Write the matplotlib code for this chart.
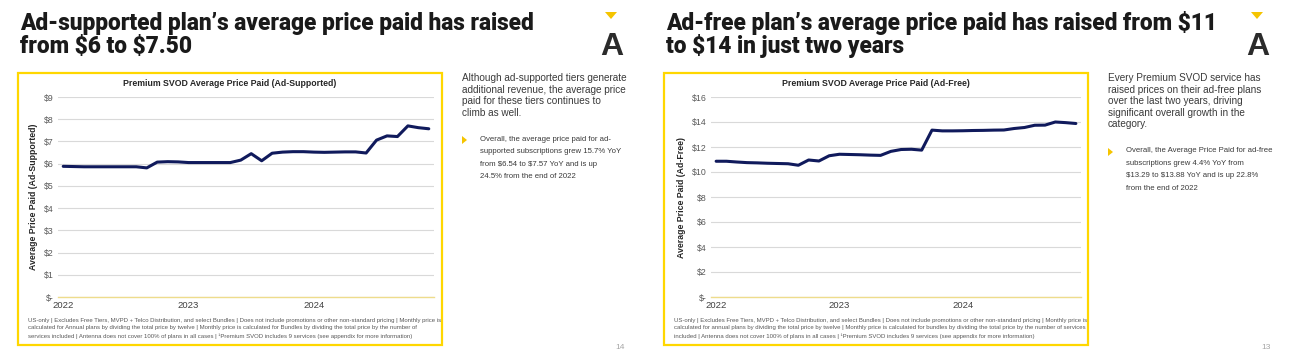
# Premium SVOD average price paid - two slides side by side

import matplotlib.pyplot as plt
from matplotlib.patches import Rectangle, Polygon


# data (monthly, Jan 2022 - Dec 2024)

months = [f"{y}-{m:02d}" for y in (2022, 2023, 2024) for m in range(1, 13)]
year_labels = ["2022", "2023", "2024"]

ad_supported = [5.88, 5.87, 5.86, 5.86, 5.86, 5.86, 5.86, 5.86, 5.81, 6.07, 6.09, 6.08,
                6.05, 6.05, 6.05, 6.05, 6.05, 6.16, 6.45, 6.13, 6.47, 6.52, 6.54, 6.54,
                6.52, 6.51, 6.52, 6.53, 6.53, 6.48, 7.06, 7.25, 7.22, 7.70, 7.62, 7.57]

ad_free = [10.86, 10.86, 10.80, 10.75, 10.73, 10.70, 10.68, 10.66, 10.54, 10.96, 10.88, 11.30,
           11.42, 11.40, 11.38, 11.35, 11.33, 11.65, 11.80, 11.82, 11.75, 13.35, 13.29, 13.29,
           13.30, 13.32, 13.33, 13.35, 13.36, 13.48, 13.56, 13.74, 13.75, 14.00, 13.95, 13.88]


W, H = 1292, 363

NAVY = "#101a5c"
YELLOW = "#ffd700"
DARK = "#262626"
GREY = "#595959"

TITLE_FONT = ["Roboto", "DejaVu Sans"]
BODY_FONT = ["Liberation Sans", "DejaVu Sans"]


fig = plt.figure(figsize=(W / 100, H / 100), dpi=100)
fig.patch.set_facecolor("white")


def fx(x):
    return x / W


def fy(y):
    return 1 - y / H


def text(x, y, s, **kw):
    kw.setdefault("family", BODY_FONT)
    return fig.text(fx(x), fy(y), s, parse_math=False, **kw)


def slide(off, title, chart_title, ylabel, values, ymax, ystep,
          body, bullet, bullet_y, footnote, page, plot_left, plot_right):

    # headline
    text(off + 20, 30, title[0], fontsize=16.3, fontweight=900,
         family=TITLE_FONT, color="#1a1a1a")
    text(off + 20, 53, title[1], fontsize=16.3, fontweight=900,
         family=TITLE_FONT, color="#1a1a1a")

    # logo
    fig.add_artist(Polygon([(fx(off + 605), fy(12)), (fx(off + 617), fy(12)),
                            (fx(off + 611), fy(19))], closed=True,
                           facecolor="#f5c400", edgecolor="none",
                           transform=fig.transFigure))
    text(off + 612, 55, "A", fontsize=23, fontweight="bold",
         color="#2b2b2b", ha="center")

    # yellow frame
    fig.add_artist(Rectangle((fx(off + 18), fy(345)), 424 / W, (345 - 73) / H,
                             fill=False, edgecolor=YELLOW, lw=1.6,
                             transform=fig.transFigure))

    # chart
    ax = fig.add_axes([fx(plot_left), fy(297), (plot_right - plot_left) / W, 200 / H])

    x = list(range(len(months)))
    ax.plot(x, values, color=NAVY, lw=2.2, solid_joinstyle="round",
            solid_capstyle="round")

    ax.set_xlim(-0.5, len(months) - 0.5)
    ax.set_ylim(0, ymax)

    yt = list(range(0, ymax + 1, ystep))
    ax.set_yticks(yt)
    ax.set_yticklabels(["$-" if v == 0 else f"${v}" for v in yt],
                       fontsize=6.3, color=GREY, family=BODY_FONT)
    ax.set_xticks([0, 12, 24])
    ax.set_xticklabels(year_labels, fontsize=6.8, color="#404040", family=BODY_FONT)
    ax.tick_params(length=0, pad=3)

    ax.grid(axis="y", color="#d9d9d9", lw=0.8)
    ax.set_axisbelow(True)
    for s in ["top", "right", "left"]:
        ax.spines[s].set_visible(False)
    ax.spines["bottom"].set_color("#eedc8c")
    ax.spines["bottom"].set_linewidth(1.0)

    ax.set_ylabel(ylabel, fontsize=6.3, fontweight="bold", color=DARK,
                  family=BODY_FONT, labelpad=4)

    text(off + 230, 84, chart_title, fontsize=6.3, fontweight="bold",
         color=DARK, ha="center", va="center")

    # footnote
    text(off + 28, 318, footnote, fontsize=4.3, color=GREY,
         va="top", linespacing=1.6)

    # side text
    tx = off + 462
    text(tx, 73, body, fontsize=7.2, color="#3a3a3a", va="top", linespacing=1.2)
    fig.add_artist(Polygon([(fx(tx), fy(bullet_y - 4)), (fx(tx + 5), fy(bullet_y)),
                            (fx(tx), fy(bullet_y + 4))], closed=True,
                           facecolor="#f5c400", edgecolor="none",
                           transform=fig.transFigure))
    text(tx + 18, bullet_y - 4.5, bullet, fontsize=5.6, color="#3a3a3a",
         va="top", linespacing=2.1)

    text(off + 620, 349, page, fontsize=6, color="#a6a6a6", ha="center")


slide(0,
      ["Ad-supported plan\u2019s average price paid has raised",
       "from $6 to $7.50"],
      "Premium SVOD Average Price Paid (Ad-Supported)",
      "Average Price Paid (Ad-Supported)",
      ad_supported, 9, 1,
      "Although ad-supported tiers generate\nadditional revenue, the average price\n"
      "paid for these tiers continues to\nclimb as well.",
      "Overall, the average price paid for ad-\nsupported subscriptions grew 15.7% YoY\n"
      "from $6.54 to $7.57 YoY and is up\n24.5% from the end of 2022",
      140,
      "US-only | Excludes Free Tiers, MVPD + Telco Distribution, and select Bundles | "
      "Does not include promotions or other non-standard pricing | Monthly price is\n"
      "calculated for Annual plans by dividing the total price by twelve | Monthly price "
      "is calculated for Bundles by dividing the total price by the number of\n"
      "services included | Antenna does not cover 100% of plans in all cases | "
      "\u00b9Premium SVOD includes 9 services (see appendix for more information)",
      "14", 58, 434)

slide(646,
      ["Ad-free plan\u2019s average price paid has raised from $11",
       "to $14 in just two years"],
      "Premium SVOD Average Price Paid (Ad-Free)",
      "Average Price Paid (Ad-Free)",
      ad_free, 16, 2,
      "Every Premium SVOD service has\nraised prices on their ad-free plans\n"
      "over the last two years, driving\nsignificant overall growth in the\ncategory.",
      "Overall, the Average Price Paid for ad-free\nsubscriptions grew 4.4% YoY from\n"
      "$13.29 to $13.88 YoY and is up 22.8%\nfrom the end of 2022",
      152,
      "US-only | Excludes Free Tiers, MVPD + Telco Distribution, and select Bundles | "
      "Does not include promotions or other non-standard pricing | Monthly price is\n"
      "calculated for annual plans by dividing the total price by twelve | Monthly price "
      "is calculated for bundles by dividing the total price by the number of services\n"
      "included | Antenna does not cover 100% of plans in all cases | "
      "\u00b9Premium SVOD includes 9 services (see appendix for more information)",
      "13", 711, 1081)

fig.savefig("out.png", dpi=100)
